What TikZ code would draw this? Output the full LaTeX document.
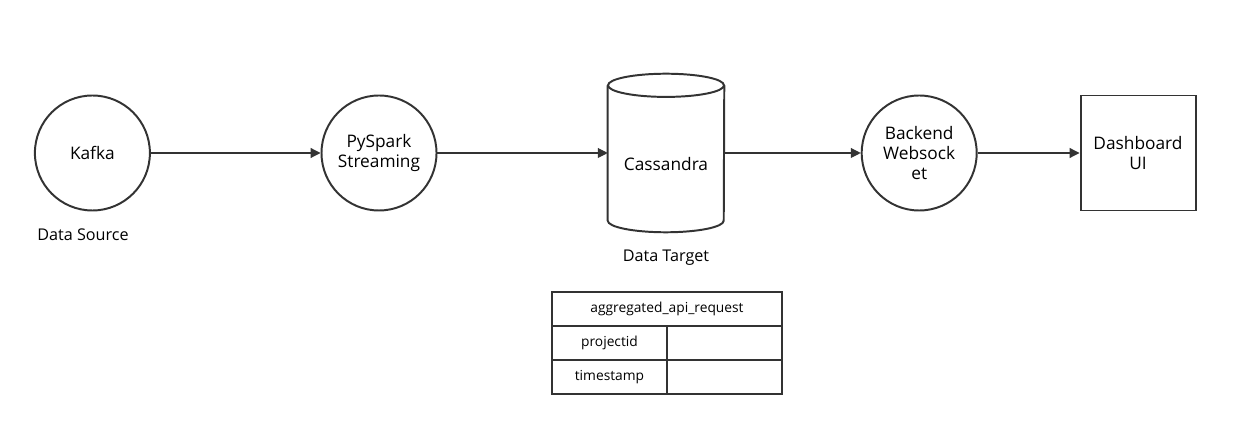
\documentclass[tikz,border=0pt]{standalone}
\usepackage{fontspec}
\setmainfont{Open Sans}
\usetikzlibrary{arrows.meta}
\usetikzlibrary{positioning}
\definecolor{linegray}{rgb}{0.2,0.2,0.2}

\begin{document}
\begin{tikzpicture}[
    proc/.style={circle, draw=linegray, line width=1.4pt, minimum size=2.875cm,
        inner sep=0pt, align=center, font=\fontsize{12.3}{14.5}\selectfont},
    store/.style={rectangle, minimum width=2.9cm, minimum height=3.95cm, inner sep=0pt},
    sink/.style={rectangle, draw=linegray, line width=1.4pt, minimum size=2.875cm,
        align=center, font=\fontsize{12.3}{14.5}\selectfont},
    tag/.style={font=\fontsize{11.5}{13}\selectfont},
    cell/.style={rectangle, draw=linegray, line width=0.9pt, minimum height=0.85cm,
        minimum width=2.875cm, inner sep=0pt, outer sep=0pt, font=\fontsize{9.8}{11.5}\selectfont},
    flow/.style={draw=linegray, line width=0.8pt, -{Triangle[length=7pt,width=7pt]}}
]
\useasboundingbox (0,0) rectangle (30.95,11);

\node[proc] (kafka) at (2.31, 7.175) {Kafka};
\node[proc] (spark) at (9.475, 7.175) {PySpark\\Streaming};
\node[store] (cass) at (16.65, 7.175) {};
\node[proc] (back) at (22.98, 7.175) {Backend\\Websock\\et};
\node[sink] (dash) at (28.45, 7.175) {Dashboard\\UI};

% cylinder
\draw[linegray, line width=1.4pt] ([yshift=-0.29cm]cass.north west) -- ([yshift=0.29cm]cass.south west)
    arc[start angle=180, end angle=360, x radius=1.45cm, y radius=0.29cm]
    -- ([yshift=-0.29cm]cass.north east);
\draw[linegray, line width=1.4pt] ([yshift=-0.29cm]cass.north) ellipse[x radius=1.45cm, y radius=0.29cm];
\node[font=\fontsize{12.3}{14.5}\selectfont] (casst) at (16.65, 6.9) {Cassandra};

\node[tag] (src) at (2.075, 5.125) {Data Source};
\node[tag] (tgt) at (16.65, 4.55) {Data Target};

\foreach \a/\b in {kafka/spark, spark/cass, cass/back, back/dash}
    \draw[flow] (\a) -- (\b);

\node[cell, minimum width=5.75cm, anchor=north west] (tbl) at (13.8, 3.7) {aggregated\_api\_request};
\node[cell, anchor=north west] (pid) at (tbl.south west) {projectid};
\node[cell, anchor=north west] (pidv) at (pid.north east) {};
\node[cell, anchor=north west] (ts) at (pid.south west) {timestamp};
\node[cell, anchor=north west] (tsv) at (ts.north east) {};

\end{tikzpicture}
\end{document}
